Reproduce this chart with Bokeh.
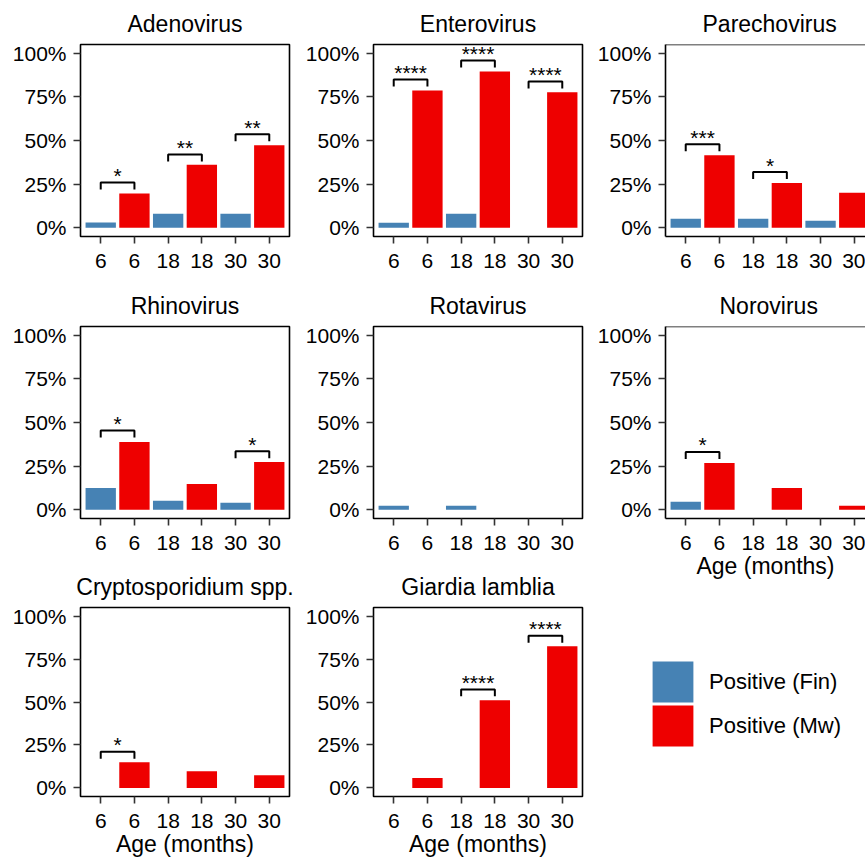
from bokeh.plotting import figure
from bokeh.layouts import row, column
from bokeh.models import (FixedTicker, NumeralTickFormatter, Range1d, Span, Legend, LegendItem)
from bokeh.core.properties import value
from bokeh.embed import file_html
from bokeh.resources import INLINE

# ---------------- data ----------------
panels = ["Adenovirus", "Enterovirus", "Parechovirus",
          "Rhinovirus", "Rotavirus", "Norovirus",
          "Cryptosporidium spp.", "Giardia lamblia"]
ages = ["6", "18", "30"]
x_tick_labels = ["6", "6", "18", "18", "30", "30"]
series = ["Positive (Fin)", "Positive (Mw)"]
y_ticks = [0, 0.25, 0.5, 0.75, 1.0]
x_title = "Age (months)"

# proportion positive at 6, 18, 30 months
fin_adenovirus = [0.030, 0.080, 0.080]
mw_adenovirus = [0.196, 0.361, 0.473]
fin_enterovirus = [0.029, 0.080, 0.0]
mw_enterovirus = [0.787, 0.895, 0.776]
fin_parechovirus = [0.051, 0.051, 0.040]
mw_parechovirus = [0.416, 0.257, 0.200]
fin_rhinovirus = [0.125, 0.051, 0.040]
mw_rhinovirus = [0.388, 0.148, 0.274]
fin_rotavirus = [0.023, 0.023, 0.0]
mw_rotavirus = [0.0, 0.0, 0.0]
fin_norovirus = [0.046, 0.0, 0.0]
mw_norovirus = [0.268, 0.125, 0.023]
fin_cryptosporidium = [0.0, 0.0, 0.0]
mw_cryptosporidium = [0.149, 0.097, 0.074]
fin_giardia = [0.0, 0.0, 0.0]
mw_giardia = [0.057, 0.510, 0.824]

# significance brackets: age index, label, bracket height
sig_adenovirus = {"age": [0, 1, 2], "label": ["*", "**", "**"], "y": [0.259, 0.420, 0.536]}
sig_enterovirus = {"age": [0, 1, 2], "label": ["****", "****", "****"], "y": [0.850, 0.958, 0.838]}
sig_parechovirus = {"age": [0, 1], "label": ["***", "*"], "y": [0.479, 0.319]}
sig_rhinovirus = {"age": [0, 2], "label": ["*", "*"], "y": [0.454, 0.335]}
sig_rotavirus = {"age": [], "label": [], "y": []}
sig_norovirus = {"age": [0], "label": ["*"], "y": [0.331]}
sig_cryptosporidium = {"age": [0], "label": ["*"], "y": [0.210]}
sig_giardia = {"age": [1, 2], "label": ["****", "****"], "y": [0.573, 0.885]}

fin_values = [fin_adenovirus, fin_enterovirus, fin_parechovirus, fin_rhinovirus,
              fin_rotavirus, fin_norovirus, fin_cryptosporidium, fin_giardia]
mw_values = [mw_adenovirus, mw_enterovirus, mw_parechovirus, mw_rhinovirus,
             mw_rotavirus, mw_norovirus, mw_cryptosporidium, mw_giardia]
sig_values = [sig_adenovirus, sig_enterovirus, sig_parechovirus, sig_rhinovirus,
              sig_rotavirus, sig_norovirus, sig_cryptosporidium, sig_giardia]

# ---------------- style ----------------
BLUE = "#4682B4"
RED = "#EE0000"
FONT = "Liberation Sans"
COL_W = [293, 292, 280]
ROW_H = [[282, 281, 296], [282, 281, 296], [282, 301, 276]]
LEFT, TOP, FRAME_H, FRAME_W_FULL = 80, 44, 192, 209
PX_PER_UNIT = FRAME_W_FULL / 6.2
TIP = 0.04
XTITLE_PANELS = {"Norovirus", "Cryptosporidium spp.", "Giardia lamblia"}
# left offsets of titles in the clipped right-hand column (panel is cut at page edge)
TITLE_LEFT_OFFSET = {"Parechovirus": 37, "Norovirus": 54}


def make_panel(k, col, rowi):
    name = panels[k]
    width = COL_W[col]
    height = ROW_H[col][rowi]
    last = col == 2
    right = 0 if last else width - LEFT - FRAME_W_FULL
    frame_w = width - LEFT - right
    x_end = 0.4 + frame_w / PX_PER_UNIT
    p = figure(width=width, height=height, output_backend="svg", toolbar_location=None,
               x_range=Range1d(0.4, x_end), y_range=Range1d(-0.05, 1.05),
               min_border_left=LEFT, min_border_right=right, min_border_top=TOP,
               min_border_bottom=height - TOP - FRAME_H)
    p.title.text = name
    p.title.text_font = FONT
    p.title.text_font_size = "23px"
    p.title.text_font_style = "normal"
    p.title.text_color = "black"
    p.title.standoff = 16
    if last:
        p.title.align = "left"
        p.title.offset = TITLE_LEFT_OFFSET[name]
    else:
        p.title.align = "center"
    p.xgrid.visible = False
    p.ygrid.visible = False

    if last:
        p.outline_line_color = None
        p.axis.axis_line_color = "black"
        p.axis.axis_line_width = 1.6
        p.add_layout(Span(location=1.05, dimension="width", line_color="black", line_width=1.6))
    else:
        p.outline_line_color = "black"
        p.outline_line_width = 1.6
        p.axis.axis_line_color = None

    xs_fin = [2 * i + 1 for i in range(len(ages))]
    xs_mw = [2 * i + 2 for i in range(len(ages))]
    p.vbar(x=xs_fin, top=fin_values[k], bottom=0, width=0.9, fill_color=BLUE, line_color=None)
    p.vbar(x=xs_mw, top=mw_values[k], bottom=0, width=0.9, fill_color=RED, line_color=None)

    sig = sig_values[k]
    if sig["age"]:
        bx = [[2 * a + 1, 2 * a + 1, 2 * a + 2, 2 * a + 2] for a in sig["age"]]
        by = [[y - TIP, y, y, y - TIP] for y in sig["y"]]
        p.multi_line(xs=bx, ys=by, line_color="black", line_width=2)
        p.text(x=[2 * a + 1.5 for a in sig["age"]], y=sig["y"], text=sig["label"],
               text_font=value(FONT), text_font_size=value("21px"), text_color="black",
               text_align="center", text_baseline="alphabetic", y_offset=-7)

    p.xaxis.ticker = FixedTicker(ticks=list(range(1, len(x_tick_labels) + 1)))
    p.xaxis.major_label_overrides = {i + 1: lab for i, lab in enumerate(x_tick_labels)}
    p.yaxis.ticker = FixedTicker(ticks=y_ticks)
    p.yaxis.formatter = NumeralTickFormatter(format="0%")
    p.axis.minor_tick_line_color = None
    p.axis.major_tick_line_color = "#333333"
    p.axis.major_tick_line_width = 1.6
    p.axis.major_tick_in = 0
    p.xaxis.major_tick_out = 7
    p.yaxis.major_tick_out = 7
    p.yaxis.major_label_standoff = 7
    p.xaxis.major_label_standoff = 10
    p.axis.major_label_text_font = FONT
    p.axis.major_label_text_font_size = "21px"
    p.axis.major_label_text_color = "black"

    if name in XTITLE_PANELS:
        p.xaxis.axis_label = x_title
        p.xaxis.axis_label_text_font = FONT
        p.xaxis.axis_label_text_font_size = "23px"
        p.xaxis.axis_label_text_font_style = "normal"
        p.xaxis.axis_label_text_color = "black"
        p.xaxis.axis_label_standoff = 0
    return p


figs = {}
grid_pos = [(0, 0), (1, 0), (2, 0), (0, 1), (1, 1), (2, 1), (0, 2), (1, 2)]
for k, (c, r) in enumerate(grid_pos):
    figs[(c, r)] = make_panel(k, c, r)

# legend panel: two single-item legends so each swatch can be placed exactly
LEG_H = ROW_H[2][2]
leg = figure(width=COL_W[2], height=LEG_H, output_backend="svg", toolbar_location=None,
             x_range=Range1d(0, 1), y_range=Range1d(0, 1),
             min_border_left=0, min_border_right=0, min_border_top=0, min_border_bottom=0,
             x_axis_location=None, y_axis_location=None)
leg.grid.visible = False
leg.outline_line_color = None
r_fin = leg.vbar(x=[0.5], top=[0.0], bottom=[0.0], width=0.5, fill_color=BLUE, line_color=None)
r_mw = leg.vbar(x=[0.5], top=[0.0], bottom=[0.0], width=0.5, fill_color=RED, line_color=None)
GLYPH = 51
for i, (lab, rend) in enumerate([(series[0], r_fin), (series[1], r_mw)]):
    box_top = 73 + i * 44
    lg = Legend(items=[LegendItem(label=lab, renderers=[rend])],
                location=(62, LEG_H - box_top - GLYPH), glyph_width=GLYPH, glyph_height=GLYPH,
                padding=0, margin=0, border_line_color=None, background_fill_alpha=0,
                label_text_font=FONT, label_text_font_size="22px", label_standoff=11,
                label_text_color="black")
    leg.add_layout(lg)

layout = row(
    column(figs[(0, 0)], figs[(0, 1)], figs[(0, 2)]),
    column(figs[(1, 0)], figs[(1, 1)], figs[(1, 2)]),
    column(column(figs[(2, 0)], figs[(2, 1)]), row(leg)),
)

open("out.html", "w").write(file_html(layout, INLINE))
